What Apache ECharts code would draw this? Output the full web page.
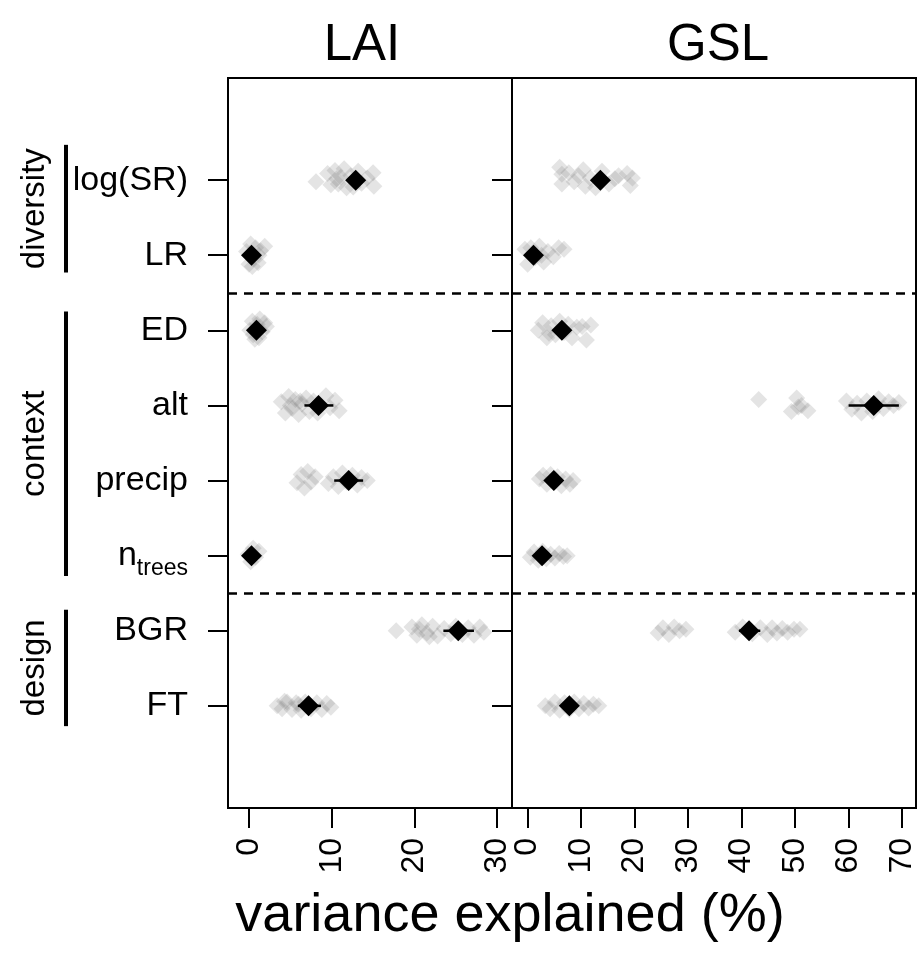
<!DOCTYPE html>
<html>
<head>
<meta charset="utf-8">
<script src="https://cdn.jsdelivr.net/npm/echarts@6/dist/echarts.min.js"></script>
<style>
  html, body { margin: 0; padding: 0; background: #fff; }
  #chart { width: 919px; height: 970px; }
</style>
</head>
<body>
<div id="chart"></div>
<script>
// rows, top to bottom
const rowLabels = ['log(SR)', 'LR', 'ED', 'alt', 'precip', 'n_trees', 'BGR', 'FT'];
const rowPos = [8, 7, 6, 5, 4, 3, 2, 1];
const laiTicks = [0, 10, 20, 30];
const gslTicks = [0, 10, 20, 30, 40, 50, 60, 70];

// mean variance explained and its interval
const laiMean = [12.9, 0.3, 0.9, 8.4, 12.05, 0.3, 25.3, 7.2];
const laiLow  = [12.0, 0.1, 0.6, 6.7, 10.3, 0.2, 23.5, 5.9];
const laiHigh = [13.8, 0.5, 1.2, 10.2, 13.8, 0.4, 27.2, 8.7];
const gslMean = [13.6, 1.1, 6.4, 64.7, 4.9, 2.7, 41.4, 7.8];
const gslLow  = [12.0, 0.6, 5.5, 60.0, 4.3, 2.2, 39.5, 7.0];
const gslHigh = [15.2, 1.6, 7.3, 69.4, 5.5, 3.2, 43.5, 8.6];

// single runs: [value, vertical offset from the row]
const laiRuns = [
  [[8.1,-0.02],[9.5,0.09],[9.9,-0.06],[10.4,0.13],[10.8,-0.05],[11.1,0.04],[11.5,0.15],[11.8,-0.1],[12.3,0.06],[12.6,-0.09],[13.2,0.12],[13.6,-0.04],[14.3,0.03],[15.0,0.1],[15.1,-0.08],[10.6,0.02]],
  [[-0.3,0.05],[0.0,-0.12],[0.2,0.15],[0.5,-0.05],[0.8,0.1],[1.1,-0.1],[1.4,0.06],[1.9,0.12],[0.4,-0.15],[1.2,0.0]],
  [[0.1,0.0],[0.4,0.12],[0.7,-0.12],[1.0,0.08],[1.3,0.15],[1.6,-0.02],[1.9,0.1],[0.5,-0.06],[1.2,-0.1],[2.1,0.05]],
  [[3.9,0.05],[4.4,-0.1],[4.8,0.12],[5.2,-0.04],[5.6,0.08],[6.0,-0.12],[6.4,0.02],[6.9,0.1],[7.3,-0.08],[7.8,0.06],[8.3,-0.1],[9.3,0.13],[9.8,-0.03],[10.4,0.07],[10.9,-0.07],[5.0,0.0],[6.2,0.06]],
  [[5.8,-0.03],[6.3,0.08],[6.7,-0.1],[7.1,0.12],[7.5,-0.02],[8.0,0.05],[9.6,-0.04],[10.2,0.05],[10.8,-0.08],[11.3,0.1],[11.8,-0.02],[12.5,0.07],[13.1,-0.06],[13.6,0.04],[14.3,0.0]],
  [[-0.1,0.02],[0.2,-0.08],[0.5,0.1],[0.8,-0.02],[1.2,0.06],[0.3,0.0]],
  [[17.8,0.0],[19.7,0.05],[20.3,-0.06],[20.9,0.08],[21.5,-0.03],[22.2,0.06],[22.8,-0.07],[23.6,0.03],[24.4,-0.04],[25.0,0.06],[25.8,-0.05],[26.5,0.04],[27.2,-0.06],[27.9,0.05],[28.4,-0.02],[20.6,0.02],[21.8,-0.08]],
  [[3.4,0.0],[4.0,-0.04],[4.6,0.05],[5.2,-0.05],[5.7,0.04],[6.3,-0.06],[6.8,0.05],[7.5,-0.04],[8.2,0.04],[8.8,-0.05],[9.4,0.03],[9.9,-0.02],[4.3,0.06],[6.0,0.02]]
];
const gslRuns = [
  [[6.0,0.17],[6.4,0.08],[6.4,-0.05],[7.7,0.1],[8.7,-0.02],[9.5,0.06],[10.4,0.14],[10.8,-0.08],[11.7,0.03],[12.7,-0.1],[13.9,0.12],[15.2,-0.05],[16.3,0.02],[17.0,0.06],[18.6,0.09],[19.2,-0.07],[19.6,0.03]],
  [[-0.5,0.08],[0.0,-0.12],[0.6,0.1],[1.4,-0.03],[2.2,0.12],[3.0,-0.09],[3.8,0.05],[4.8,-0.02],[5.8,0.1],[6.8,0.08],[2.6,0.0]],
  [[2.0,0.0],[2.8,0.1],[3.6,-0.1],[4.4,0.06],[5.2,-0.06],[6.0,0.12],[6.8,-0.03],[7.6,0.08],[8.3,-0.1],[9.2,0.04],[10.2,0.05],[11.0,-0.13],[11.8,0.07],[4.0,-0.04]],
  [[43.2,0.08],[49.3,-0.08],[50.3,0.1],[51.2,0.0],[52.4,-0.07],[50.6,-0.02],[59.6,0.06],[60.6,-0.05],[61.6,0.03],[62.4,-0.1],[63.4,0.06],[64.5,-0.08],[65.6,0.09],[66.5,-0.04],[67.5,0.05],[68.4,0.0],[69.4,0.04]],
  [[2.2,0.02],[2.9,0.07],[3.6,-0.05],[4.3,0.08],[5.0,-0.02],[5.6,0.05],[6.3,-0.07],[7.1,0.02],[7.9,-0.05],[8.5,0.0]],
  [[0.5,-0.02],[1.2,0.05],[2.0,-0.06],[2.8,0.06],[3.5,-0.04],[4.3,0.02],[5.1,-0.03],[5.9,0.03],[6.7,-0.01],[7.4,0.0]],
  [[24.4,-0.03],[25.3,0.04],[26.4,-0.05],[27.4,0.05],[28.4,0.0],[29.6,0.02],[38.8,-0.02],[40.2,0.05],[42.0,-0.04],[43.5,0.04],[44.8,-0.05],[45.7,0.04],[46.6,-0.03],[47.6,0.03],[48.6,-0.02],[49.8,0.02],[50.9,0.02]],
  [[3.3,0.0],[4.2,-0.04],[5.1,0.05],[6.0,-0.06],[6.9,0.04],[7.8,-0.05],[8.7,0.05],[9.6,-0.04],[10.5,0.03],[11.4,-0.03],[12.3,0.02],[13.3,0.0]]
];

// predictor groups: name, lower and upper row extent of the bar
const groups = [
  ['diversity', 6.77, 8.47],
  ['context', 2.73, 6.25],
  ['design', 0.73, 2.28]
];
const separators = [6.5, 2.5];

const FONT = '"Liberation Sans", Arial, Helvetica, sans-serif';

function runsData(runs) {
  const out = [];
  runs.forEach((row, i) => {
    row.forEach((p) => out.push([p[0], rowPos[i] + p[1]]));
  });
  return out;
}

function panelSeries(idx, runs, mean, low, high) {
  return [
    {
      type: 'scatter',
      xAxisIndex: idx,
      yAxisIndex: idx,
      symbol: 'diamond',
      symbolSize: 17,
      itemStyle: { color: 'rgba(120,120,120,0.2)', opacity: 1 },
      data: runsData(runs),
      silent: true,
      z: 2
    },
    {
      type: 'custom',
      xAxisIndex: idx,
      yAxisIndex: idx,
      encode: { x: [0, 1], y: 2 },
      data: low.map((v, i) => [v, high[i], rowPos[i]]),
      renderItem(params, api) {
        const a = api.coord([api.value(0), api.value(2)]);
        const b = api.coord([api.value(1), api.value(2)]);
        return {
          type: 'line',
          shape: { x1: a[0], y1: a[1], x2: b[0], y2: b[1] },
          style: { stroke: '#000', lineWidth: 2.5 }
        };
      },
      silent: true,
      z: 3
    },
    {
      type: 'scatter',
      xAxisIndex: idx,
      yAxisIndex: idx,
      symbol: 'diamond',
      symbolSize: 21,
      itemStyle: { color: '#000', opacity: 1 },
      data: mean.map((v, i) => [v, rowPos[i]]),
      silent: true,
      z: 4,
      markLine: {
        silent: true,
        symbol: 'none',
        label: { show: false },
        lineStyle: { color: '#000', type: [9, 7], width: 2.5, opacity: 1 },
        data: separators.map((v) => ({ yAxis: v }))
      }
    }
  ];
}

function xAxis(idx, min, max, ticks) {
  return {
    type: 'value',
    gridIndex: idx,
    min: min,
    max: max,
    axisLine: { show: false, onZero: false },
    splitLine: { show: false },
    axisTick: {
      show: true,
      customValues: ticks,
      length: 20,
      lineStyle: { color: '#000', width: 2 }
    },
    axisLabel: {
      customValues: ticks,
      rotate: 90,
      margin: 30,
      fontSize: 32,
      fontFamily: FONT,
      color: '#000'
    }
  };
}

function yAxis(idx, showLabel) {
  return {
    type: 'value',
    gridIndex: idx,
    min: -0.36,
    max: 9.36,
    axisLine: { show: false, onZero: false },
    splitLine: { show: false },
    axisTick: {
      show: true,
      customValues: rowPos,
      length: 20,
      lineStyle: { color: '#000', width: 2 }
    },
    axisLabel: {
      show: showLabel,
      customValues: rowPos,
      margin: 40,
      fontSize: 34,
      fontFamily: FONT,
      color: '#000',
      formatter(v) {
        const lab = rowLabels[8 - v];
        if (lab === 'n_trees') return '{n|n}{s|trees}';
        return lab;
      },
      rich: {
        n: { fontSize: 34, fontFamily: FONT, color: '#000' },
        s: { fontSize: 23, fontFamily: FONT, color: '#000', padding: [27, 0, 0, 0] }
      }
    }
  };
}

const chart = echarts.init(document.getElementById('chart'));

const option = {
  animation: false,
  backgroundColor: '#fff',
  grid: [
    { left: 228, top: 78, width: 284, height: 730, show: true, borderColor: '#000', borderWidth: 2 },
    { left: 512, top: 78, width: 404, height: 730, show: true, borderColor: '#000', borderWidth: 2 }
  ],
  xAxis: [xAxis(0, -2.54, 31.8, laiTicks), xAxis(1, -2.92, 72.6, gslTicks)],
  yAxis: [yAxis(0, true), yAxis(1, false)],
  series: [
    ...panelSeries(0, laiRuns, laiMean, laiLow, laiHigh),
    ...panelSeries(1, gslRuns, gslMean, gslLow, gslHigh)
  ]
};
chart.setOption(option);

// text and group bars placed from the axes
const graphics = [];
const titleStyle = { fontSize: 51, fontFamily: FONT, fill: '#000', align: 'center', verticalAlign: 'middle' };
graphics.push({ type: 'text', x: 362, y: 46, style: Object.assign({ text: 'LAI' }, titleStyle) });
graphics.push({ type: 'text', x: 718, y: 46, style: Object.assign({ text: 'GSL' }, titleStyle) });
graphics.push({
  type: 'text', x: 510, y: 916,
  style: { text: 'variance explained (%)', fontSize: 54, fontFamily: FONT, fill: '#000', align: 'center', verticalAlign: 'middle' }
});
groups.forEach((g) => {
  const y1 = chart.convertToPixel({ yAxisIndex: 0 }, g[2]);
  const y2 = chart.convertToPixel({ yAxisIndex: 0 }, g[1]);
  graphics.push({
    type: 'line',
    shape: { x1: 66, y1: y1, x2: 66, y2: y2 },
    style: { stroke: '#000', lineWidth: 4 }
  });
  graphics.push({
    type: 'text', x: 35, y: (y1 + y2) / 2, rotation: Math.PI / 2,
    style: { text: g[0], fontSize: 33, fontFamily: FONT, fill: '#000', align: 'center', verticalAlign: 'middle' }
  });
});
chart.setOption({ graphic: graphics });
</script>
</body>
</html>
